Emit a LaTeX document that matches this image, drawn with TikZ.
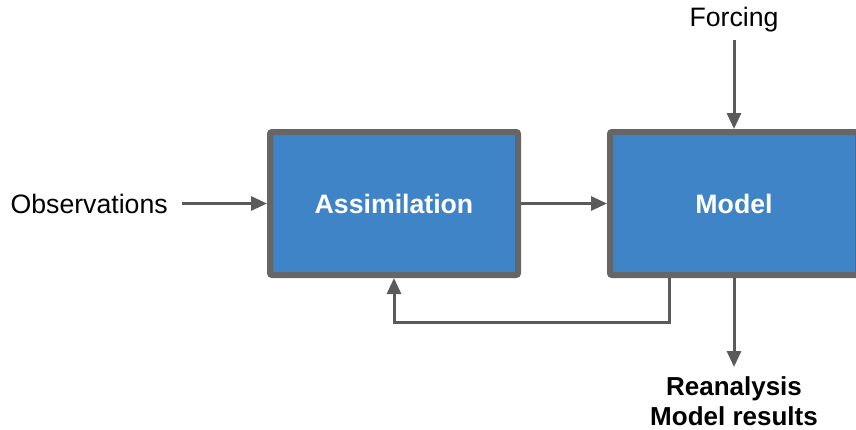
\documentclass[tikz,border=0pt]{standalone}
\usepackage{fontspec}
\setmainfont{Liberation Sans}
\usepackage{xcolor}
\usepackage{tikz}
\usetikzlibrary{arrows.meta, positioning}

\definecolor{blockfill}{HTML}{3F84C6}
\definecolor{blockedge}{HTML}{666666}
\definecolor{flowgray}{HTML}{5A5A5A}

\begin{document}
\begin{tikzpicture}[
  x=0.75pt, y=-0.75pt,
  block/.style={draw=blockedge, fill=blockfill, line width=4.5pt, rounded corners=1.5pt,
    minimum width=186pt, minimum height=107.25pt, text=white,
    font=\fontsize{20}{24}\selectfont\bfseries},
  label/.style={inner sep=0pt, font=\fontsize{20}{24}\selectfont},
  result/.style={inner sep=0pt, align=center, font=\fontsize{19.5}{22.5}\selectfont\bfseries},
  flow/.style={draw=flowgray, line width=2.25pt, -{Triangle[length=12pt, width=10.5pt]}},
]
\useasboundingbox (0,0) rectangle (856,429);

%% Row: observations -> assimilation -> model
\node[block] (assim) at (394,203.5) {Assimilation};
\node[block, right=64.5pt of assim] (model) {Model};
\node[label, left=74.25pt of assim] (obs) {Observations};

%% Forcing in, results out
\node[label, above=72.75pt of model] (forcing) {Forcing};
\node[result, below=73.5pt of model] (out) {Reanalysis\\Model results};

\draw[flow, shorten <=10.5pt] (obs.east) -- (assim.west);
\draw[flow] (assim.east) -- (model.west);
\draw[flow, shorten <=6pt] (forcing.south) -- (model.north);
\draw[flow, shorten >=6.75pt] (model.south) -- (out.north);

%% Feedback loop back into the assimilation
\draw[flow] ([xshift=-48.75pt]model.south) -- ++(0,44) -| (assim.south);

\end{tikzpicture}
\end{document}
